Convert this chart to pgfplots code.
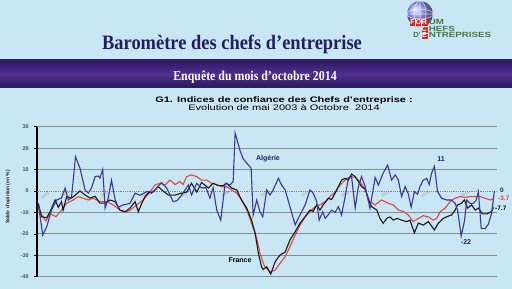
\documentclass[border=0pt]{standalone}
\usepackage{fontspec}
\setmainfont{Liberation Sans}
\newfontfamily\seriffont{Liberation Serif}
\usepackage{pgfplots}
\pgfplotsset{compat=1.18}
\definecolor{bgblue}{RGB}{200,230,243}
\definecolor{bannermid}{RGB}{78,48,145}
\definecolor{bannerdark}{RGB}{48,28,100}
\definecolor{titlenavy}{RGB}{35,30,95}
\definecolor{algblue}{RGB}{62,55,150}
\definecolor{frred}{RGB}{228,72,58}
\definecolor{gridgray}{RGB}{135,140,145}
\definecolor{tickgray}{RGB}{80,80,80}
\definecolor{logogreen}{RGB}{70,120,60}
\definecolor{logored}{RGB}{220,40,40}
\tikzset{yrlab/.style={rotate=30, text=gray!75, font=\fontsize{4}{4}\selectfont},
  logotxt/.style={anchor=base west, inner sep=0, font=\bfseries\fontsize{7.5}{8}\selectfont, text=logogreen, xscale=1.3},
  logobox/.style={anchor=base, inner sep=0, font=\bfseries\fontsize{7}{8}\selectfont, text=white}}
\begin{document}
\begin{tikzpicture}[x=1pt,y=1pt]
\useasboundingbox (0,0) rectangle (512,289);
\fill[bgblue] (0,0) rectangle (512,289);
% banner
\fill[bannerdark] (0,200.5) rectangle (512,230);
\shade[top color=bannerdark, bottom color=bannerdark!90!black, middle color=bannermid] (0,202) rectangle (512,227.5);
\node[anchor=base, text=white, font=\seriffont\bfseries\fontsize{13.5}{14}\selectfont, xscale=0.88] at (255,208.5) {Enquête du mois d’octobre 2014};
% main title
\node[anchor=base, text=titlenavy, font=\seriffont\bfseries\fontsize{20.5}{22}\selectfont, xscale=0.9] at (232,239) {Baromètre des chefs d’entreprise};
% logo
\shade[ball color=blue!40!white] (420,275) circle (13);
\draw[white, line width=0.6pt, opacity=0.7] (420,275) ellipse (6 and 13) (420,275) ellipse (13 and 5) (407,275) -- (433,275) (420,262) -- (420,288);
\fill[logored] (409.5,262.5) rectangle (427.5,270);
\fill[logored] (421.5,249.5) rectangle (427.5,262.5);
\node[logobox] at (412.5,264) {F};
\node[logobox] at (418.5,264) {O};
\node[logobox] at (424.5,264) {R};
\node[logobox] at (424.5,257.5) {C};
\node[logobox] at (424.5,251) {E};
\draw[white, line width=0.4pt] (415.5,262.5) -- (415.5,270) (421.5,262.5) -- (421.5,270) (421.5,262.5) -- (427.5,262.5) (421.5,256) -- (427.5,256);
\node[logotxt] at (428.5,264) {UM};
\node[logotxt] at (428.5,257.5) {HEFS};
\node[logotxt] at (428.5,251) {NTREPRISES};
\node[anchor=base east, inner sep=0, font=\bfseries\fontsize{7.5}{8}\selectfont, text=logogreen] at (421,251) {D’};
% chart titles
\node[anchor=base, font=\bfseries\fontsize{8}{9}\selectfont, xscale=1.37] at (284,186) {G1. Indices de confiance des Chefs d'entreprise :};
\node[anchor=base, font=\fontsize{8}{9}\selectfont, xscale=1.38] at (284,178) {Evolution de mai 2003 à Octobre\ \ 2014};
\begin{axis}[at={(36.7pt,12.3pt)}, anchor=south west, scale only axis,
  width=460.3pt, height=150pt,
  xmin=2003.34, xmax=2014.845, ymin=-40, ymax=30,
  axis x line=none, axis y line*=left,
  y axis line style={line width=1.8pt, black, -},
  ytick={-40,-30,-20,-10,10,20,30},
  extra y ticks={0},
  extra y tick style={grid style={densely dotted, line width=0.9pt, color=gray!70!brown}},
  ymajorgrids, grid style={gridgray, line width=0.8pt},
  tick align=outside, major tick length=2.5pt,
  ytick style={black, line width=0.6pt},
  yticklabel style={font=\bfseries\fontsize{5.5}{6}\selectfont, text=tickgray, xshift=-2pt},
  /pgf/number format/assume math mode=true,
  clip=false]
\node[yrlab] at (axis cs:2003.55,-2.2) {2003};
\node[yrlab] at (axis cs:2004.05,-1.6) {2004};
\node[yrlab] at (axis cs:2005.05,-1.6) {2005};
\node[yrlab] at (axis cs:2006.05,-1.6) {2006};
\node[yrlab] at (axis cs:2007.05,-1.6) {2007};
\node[yrlab] at (axis cs:2008.05,-1.6) {2008};
\node[yrlab] at (axis cs:2009.05,-1.6) {2009};
\node[yrlab] at (axis cs:2010.05,-1.6) {2010};
\node[yrlab] at (axis cs:2011.05,-1.6) {2011};
\node[yrlab] at (axis cs:2012.05,-1.6) {2012};
\node[yrlab] at (axis cs:2013.05,-1.6) {2013};
\node[yrlab] at (axis cs:2014.05,-1.6) {2014};
% red series
\addplot[frred, line width=1.1pt, mark=none] coordinates {
(2003.38,-8) (2003.49,-12) (2003.57,-14) (2003.67,-10.5) (2003.82,-12) (2003.96,-9)
(2004.09,-5.7) (2004.25,-4.2) (2004.38,-2.6) (2004.50,-3.4) (2004.63,-4.2) (2004.75,-3.4)
(2004.92,-5) (2005.09,-5) (2005.25,-6.5) (2005.42,-8.9) (2005.55,-10) (2005.67,-9)
(2005.84,-6.5) (2006.00,-4.2) (2006.15,-1) (2006.30,2.8) (2006.42,3.6) (2006.55,2.8)
(2006.67,5.1) (2006.80,3) (2006.92,4.4) (2007.00,3) (2007.09,6.7) (2007.21,7.5)
(2007.34,6.7) (2007.46,5.1) (2007.59,5.1) (2007.71,3.6) (2007.84,3) (2007.96,2)
(2008.09,2) (2008.21,0.5) (2008.34,-1) (2008.46,-4.2) (2008.59,-8.9) (2008.71,-15)
(2008.84,-22) (2008.92,-29) (2009.03,-35) (2009.17,-37.7) (2009.30,-37) (2009.42,-33.8)
(2009.55,-30.7) (2009.67,-26) (2009.80,-20.6) (2009.92,-16) (2010.05,-12) (2010.17,-9.7)
(2010.30,-7.3) (2010.42,-6.5) (2010.55,-5) (2010.67,-2.6) (2010.80,-0.5) (2010.92,2.8)
(2011.05,5.1) (2011.17,6.7) (2011.30,6.4) (2011.42,4.4) (2011.55,0.5) (2011.67,-5)
(2011.80,-6.5) (2011.96,-4.2) (2012.13,-5.8) (2012.25,-6.5) (2012.38,-8.9) (2012.50,-9.5)
(2012.63,-11.2) (2012.75,-14.3) (2012.88,-12.8) (2013.00,-11.5) (2013.13,-12.1) (2013.25,-13.6)
(2013.34,-12.8) (2013.42,-9.7) (2013.55,-8) (2013.67,-5) (2013.80,-3.4) (2013.92,-2.6)
(2014.05,-3) (2014.17,-2.6) (2014.30,-2.6) (2014.42,-2.6) (2014.55,-3.4) (2014.67,-4.2)
(2014.75,-3.7)
};
% black series (France)
\addplot[black!90, line width=1.1pt, mark=none] coordinates {
(2003.38,-5.7) (2003.46,-12) (2003.59,-12.5) (2003.69,-9) (2003.80,-4.2) (2003.88,-7.6)
(2003.96,-5) (2004.00,-9) (2004.09,-2.6) (2004.21,-3.3) (2004.30,-2) (2004.42,0)
(2004.55,-1.9) (2004.67,-3.3) (2004.80,-2.5) (2004.92,-5.7) (2005.05,-5.7) (2005.17,-4.2)
(2005.30,-5) (2005.42,-8.9) (2005.55,-9.7) (2005.67,-8) (2005.80,-5) (2005.88,-9.7)
(2005.96,-6) (2006.05,-2.5) (2006.15,-0.5) (2006.21,-1) (2006.38,2) (2006.50,0)
(2006.63,-1.9) (2006.80,-1.9) (2006.96,-1) (2007.09,-0.5) (2007.21,3.6) (2007.34,-0.5)
(2007.46,4) (2007.63,1.4) (2007.75,3.6) (2007.88,2.5) (2008.00,2.5) (2008.09,3.6)
(2008.21,1.4) (2008.34,0.5) (2008.46,-4.2) (2008.59,-8) (2008.71,-13.6) (2008.80,-19.8)
(2008.88,-29) (2008.96,-35.4) (2009.00,-36.6) (2009.09,-35.4) (2009.19,-38.8) (2009.30,-33)
(2009.42,-29.9) (2009.55,-28.5) (2009.67,-22.9) (2009.80,-19) (2009.92,-15.1) (2010.05,-12)
(2010.17,-8.9) (2010.25,-9.5) (2010.34,-6.5) (2010.42,-8.9) (2010.50,-6.5) (2010.63,-3.4)
(2010.71,-4) (2010.80,-1) (2010.88,2) (2010.96,5.1) (2011.05,5.9) (2011.13,5)
(2011.21,7.9) (2011.30,6.7) (2011.38,4.4) (2011.46,2) (2011.55,1) (2011.63,-4.2)
(2011.71,-7.3) (2011.84,-8.9) (2011.92,-12.8) (2012.00,-15.1) (2012.09,-12.8) (2012.17,-12.1)
(2012.25,-13.6) (2012.35,-12.8) (2012.46,-13.6) (2012.59,-14.3) (2012.67,-13.6) (2012.78,-19.5)
(2012.88,-15) (2013.00,-15.9) (2013.13,-14.3) (2013.28,-18.2) (2013.38,-15) (2013.50,-12.8)
(2013.59,-12) (2013.71,-11.2) (2013.80,-8.9) (2013.86,-6.5) (2013.95,-5.8) (2014.03,-4.2)
(2014.11,-8) (2014.21,-6.5) (2014.30,-8.9) (2014.38,-8) (2014.48,-10.7) (2014.59,-10.7)
(2014.70,-9.7) (2014.76,-7.7)
};
% blue series (Algerie)
\addplot[algblue, line width=1.1pt, mark=none] coordinates {
(2003.38,-5.7) (2003.49,-20.6) (2003.59,-16.7) (2003.71,-8.9) (2003.84,-4.2) (2003.96,-3.3)
(2004.05,1.4) (2004.13,-4.2) (2004.21,-3) (2004.31,16) (2004.42,10.7) (2004.55,0.5)
(2004.63,-1) (2004.71,1.4) (2004.80,6.7) (2004.88,7) (2004.92,6) (2004.99,10)
(2005.05,-8) (2005.13,-3) (2005.21,5) (2005.30,-4) (2005.38,-7.6) (2005.50,-6.5)
(2005.67,-5.8) (2005.80,-1) (2005.92,-2) (2006.09,-0.3) (2006.25,-0.5) (2006.46,3.9)
(2006.59,1.4) (2006.75,-5) (2006.85,-4.5) (2006.96,-2) (2007.13,2.8) (2007.21,-1.9)
(2007.34,3.6) (2007.45,1.5) (2007.57,1.5) (2007.67,-3.3) (2007.75,1.5) (2007.84,-8.9)
(2007.94,-13.6) (2008.05,3.6) (2008.17,2.8) (2008.25,4.4) (2008.30,27) (2008.42,19)
(2008.50,15) (2008.70,10.6) (2008.75,-11.2) (2008.84,-4.2) (2008.92,-9.7) (2008.99,-12)
(2009.09,0.5) (2009.17,-1.9) (2009.25,0.5) (2009.38,5.9) (2009.46,2.8) (2009.55,0.5)
(2009.67,-7.3) (2009.80,-15.9) (2009.92,-11.2) (2010.05,-6.5) (2010.17,0.5) (2010.25,-1)
(2010.34,-5) (2010.40,-13.6) (2010.49,-9.7) (2010.55,-12.8) (2010.63,-11) (2010.71,-8.9)
(2010.80,-10) (2010.88,-7.3) (2010.96,-11.2) (2011.05,-2.6) (2011.13,5.9) (2011.21,6.7)
(2011.30,-8) (2011.38,2) (2011.46,6.7) (2011.55,2) (2011.67,-8) (2011.80,6.3)
(2011.88,2.8) (2012.00,8.3) (2012.11,12.1) (2012.21,5.1) (2012.30,7.5) (2012.38,5.1)
(2012.46,-2.6) (2012.55,2) (2012.63,-1.5) (2012.70,-7.6) (2012.78,-0.3) (2012.86,-1.5)
(2012.92,2) (2013.00,5) (2013.09,5.9) (2013.15,3) (2013.21,8.3) (2013.28,11.4)
(2013.36,-0.3) (2013.46,-3.4) (2013.59,-4.2) (2013.71,-4.2) (2013.80,-5.8) (2013.86,-8.9)
(2013.95,-21) (2014.03,-14.3) (2014.09,-4.2) (2014.17,-5.8) (2014.25,-5.8) (2014.32,-4.5)
(2014.38,-0.3) (2014.45,-17.4) (2014.55,-17.5) (2014.63,-15.5) (2014.71,-10.4) (2014.78,0)
};
\end{axis}
% y label
\node[rotate=90, font=\bfseries\fontsize{5}{5}\selectfont, text=black!85] at (8,92) {Solde d'opinion (en \%)};
% series labels
\node[font=\bfseries\fontsize{7}{7}\selectfont, text=titlenavy] at (268,130) {Algérie};
\node[font=\bfseries\fontsize{7}{7}\selectfont, text=black] at (240,29) {France};
\node[font=\bfseries\fontsize{7}{7}\selectfont, text=titlenavy] at (441,130) {11};
\node[font=\bfseries\fontsize{7}{7}\selectfont, text=titlenavy] at (466,47) {-22};
\node[font=\bfseries\fontsize{6.5}{7}\selectfont, text=titlenavy] at (502,99) {0};
\node[anchor=west, inner sep=0pt, font=\bfseries\fontsize{6.5}{7}\selectfont, text=frred] at (498,91) {-3.7};
\node[anchor=west, inner sep=0pt, font=\bfseries\fontsize{6.5}{7}\selectfont, text=black] at (495,81) {-7.7};
\end{tikzpicture}
\end{document}
